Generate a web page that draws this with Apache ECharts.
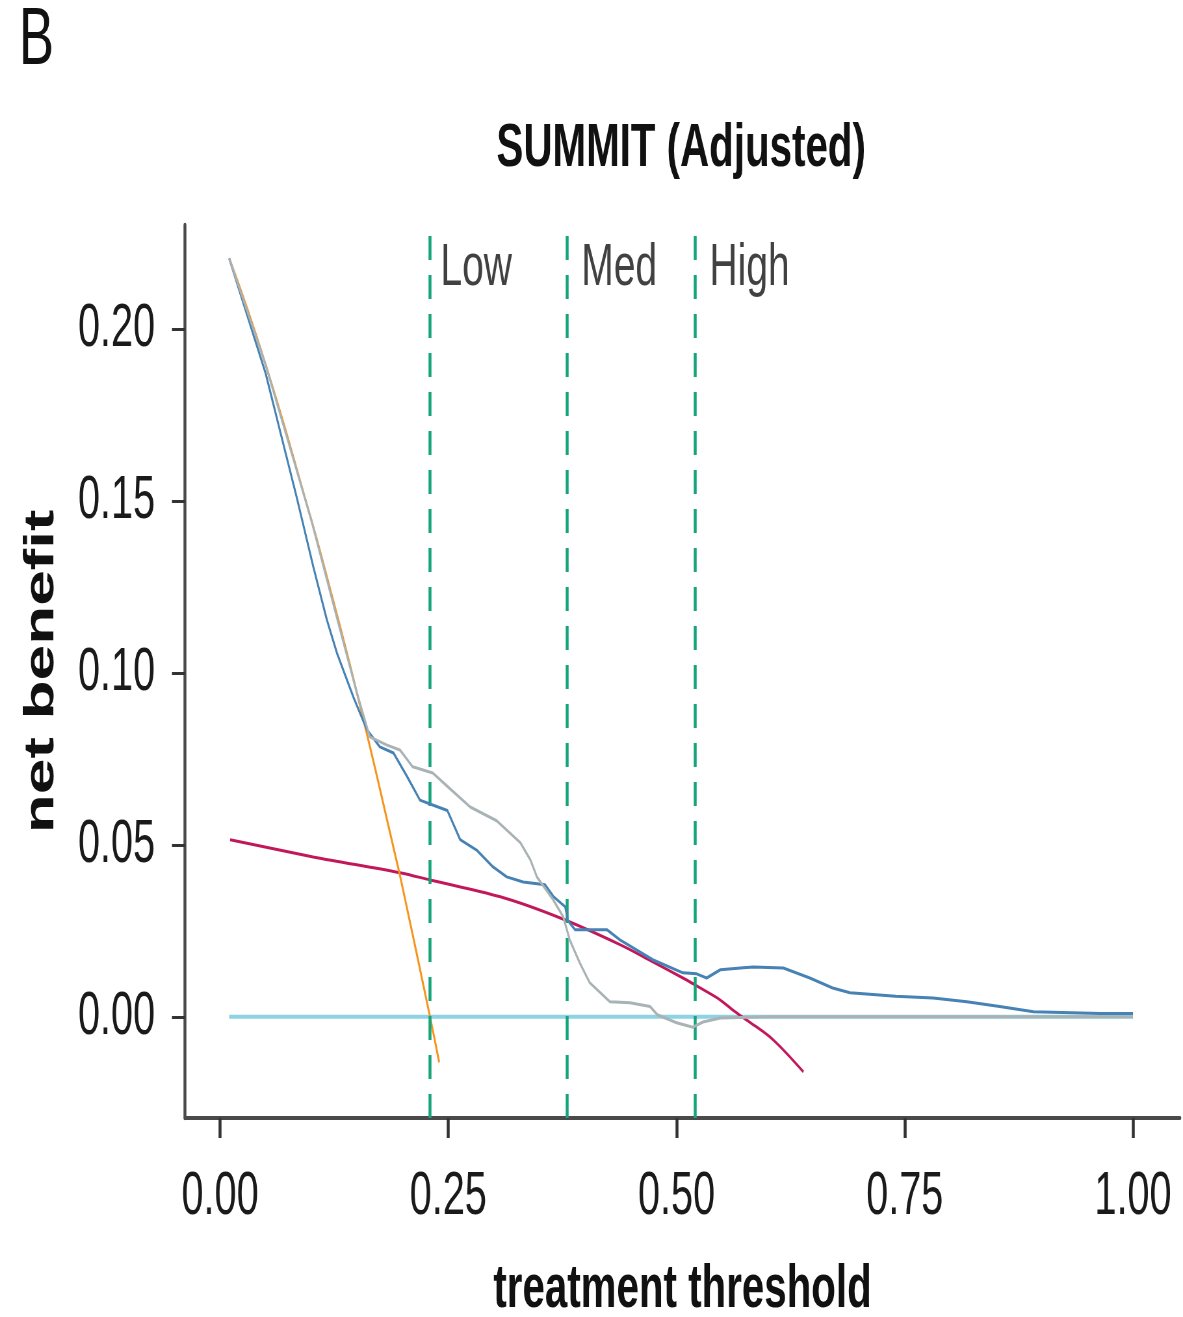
<!DOCTYPE html>
<html>
<head>
<meta charset="utf-8">
<script src="https://cdn.jsdelivr.net/npm/echarts@6/dist/echarts.min.js"></script>
<style>
html,body{margin:0;padding:0;background:#fff;overflow:hidden;}
#chart{width:1820px;height:1317px;transform:scaleX(0.65);transform-origin:0 0;}
</style>
</head>
<body>
<div id="chart"></div>
<script>
// ---- data ----
const xTicks = [0, 0.25, 0.5, 0.75, 1.0];
const yTicks = [0, 0.05, 0.10, 0.15, 0.20];
const thresholds = [0.23, 0.38, 0.519];
const thresholdLabels = ['Low', 'Med', 'High'];

const treatAll = [[0.01,0.2205],[0.05,0.1895],[0.10,0.1444],[0.113,0.1319],[0.15,0.0941],[0.195,0.0435],[0.20,0.0375],[0.23,0.0],[0.24,-0.0132]];
const treatNone = [[0.01,0],[1.0,0]];
const modelBlue = [[0.01,0.2205],[0.05,0.187],[0.066,0.170],[0.084,0.151],[0.102,0.131],[0.117,0.1154],[0.128,0.1058],[0.146,0.093],[0.161,0.0834],[0.175,0.0785],[0.190,0.0767],[0.205,0.0698],[0.219,0.063],[0.230,0.0619],[0.249,0.060],[0.263,0.0515],[0.281,0.0485],[0.299,0.0436],[0.314,0.0407],[0.332,0.0392],[0.356,0.0384],[0.365,0.035],[0.378,0.032],[0.381,0.028],[0.389,0.0253],[0.424,0.0253],[0.438,0.0224],[0.474,0.0166],[0.507,0.0128],[0.522,0.0125],[0.533,0.0113],[0.548,0.0137],[0.57,0.0142],[0.584,0.0145],[0.617,0.0142],[0.646,0.0113],[0.671,0.0084],[0.690,0.007],[0.74,0.006],[0.781,0.0055],[0.818,0.0044],[0.854,0.003],[0.891,0.0015],[0.964,0.001],[1.0,0.001]];
const modelGray = [[0.01,0.2205],[0.05,0.1895],[0.10,0.1444],[0.13,0.114],[0.15,0.0941],[0.164,0.0814],[0.183,0.079],[0.197,0.0776],[0.211,0.0727],[0.233,0.0709],[0.249,0.067],[0.274,0.061],[0.303,0.057],[0.329,0.0506],[0.34,0.0456],[0.347,0.0407],[0.365,0.034],[0.376,0.029],[0.383,0.0224],[0.394,0.0157],[0.405,0.0099],[0.427,0.0044],[0.449,0.0041],[0.471,0.003],[0.479,0.0006],[0.50,-0.0017],[0.518,-0.003],[0.529,-0.0015],[0.548,-0.0003],[0.6,0],[1.0,0]];
const modelRed = [[0.011,0.0515],[0.102,0.0465],[0.197,0.0419],[0.230,0.0398],[0.307,0.0349],[0.372,0.0288],[0.438,0.0210],[0.474,0.0160],[0.507,0.0113],[0.526,0.0084],[0.548,0.0049],[0.564,0.0015],[0.58,-0.0015],[0.606,-0.0067],[0.639,-0.0160]];

const FONT = "'Liberation Sans', Arial, Helvetica, sans-serif";
const chart = echarts.init(document.getElementById('chart'));

const lineSeries = (name, data, color, width, smooth, z) => ({
  name, type: 'line', data, showSymbol: false, symbol: 'none', smooth,
  lineStyle: {color, width}, z, silent: true, animation: false
});
const labelGaps = [16, 22, 24];

chart.setOption({
  animation: false,
  backgroundColor: '#fff',
  graphic: [
    {type:'text', left: 29, top: 1, style:{text:'B', font: '81px ' + FONT, fill:'#111'}},
    {type:'text', x: 1048, y: 149, style:{text:'SUMMIT (Adjusted)', font: 'bold 62px ' + FONT, fill:'#111', textAlign:'center', textVerticalAlign:'middle'}}
  ],
  grid: {left: 284.6, right: 4.6, top: 225, bottom: 199, containLabel: false, outerBoundsMode: 'none'},
  xAxis: {
    type: 'value', min: -0.0384, max: 1.0515,
    splitLine: {show: false},
    axisLine: {show: true, onZero: false, lineStyle: {color: '#4a4a4a', width: 4}},
    axisTick: {show: true, customValues: xTicks, length: 20, lineStyle: {color: '#333', width: 4.5}},
    axisLabel: {customValues: xTicks, formatter: v => v.toFixed(2), fontSize: 61, fontFamily: FONT, color: '#1a1a1a', margin: 49},
    name: 'treatment threshold', nameLocation: 'middle', nameGap: 141,
    nameTextStyle: {fontSize: 62, fontWeight: 'bold', fontFamily: FONT, color: '#111'}
  },
  yAxis: {
    type: 'value', min: -0.0294, max: 0.2302,
    splitLine: {show: false},
    axisLine: {show: true, onZero: false, lineStyle: {color: '#4a4a4a', width: 4.5}},
    axisTick: {show: true, customValues: yTicks, length: 20, lineStyle: {color: '#333', width: 3}},
    axisLabel: {customValues: yTicks, formatter: v => v.toFixed(2), fontSize: 61, fontFamily: FONT, color: '#1a1a1a', margin: 46},
    name: 'net benefit', nameLocation: 'middle', nameRotate: 90, nameGap: 188,
    nameTextStyle: {fontSize: 64, fontWeight: 'bold', fontFamily: FONT, color: '#111'}
  },
  series: [
    Object.assign(lineSeries('Treat none', treatNone, '#8dd3e3', 4, false, 2), {
      markLine: {
        silent: true, symbol: ['none','none'], animation: false,
        label: {show: false},
        lineStyle: {color: '#16a57b', width: 4.5, type: [24, 15]},
        data: thresholds.map(v => ({xAxis: v}))
      }
    }),
    lineSeries('Model red', modelRed, '#c2185b', 3, 0.35, 3),
    lineSeries('Treat all', treatAll, '#f7941d', 3, true, 4),
    lineSeries('Model blue', modelBlue, '#4682b4', 3, false, 5),
    lineSeries('Model gray', modelGray, '#a9b2b5', 3, false, 6),
    {
      type: 'scatter', symbolSize: 0, silent: true, animation: false,
      data: thresholds.map((v, i) => ({value: [v, 0.2177], name: thresholdLabels[i], label: {distance: labelGaps[i]}})),
      label: {show: true, position: 'right', formatter: p => p.name,
        fontSize: 60, fontFamily: FONT, color: '#111'}
    }
  ]
});
</script>
</body>
</html>
